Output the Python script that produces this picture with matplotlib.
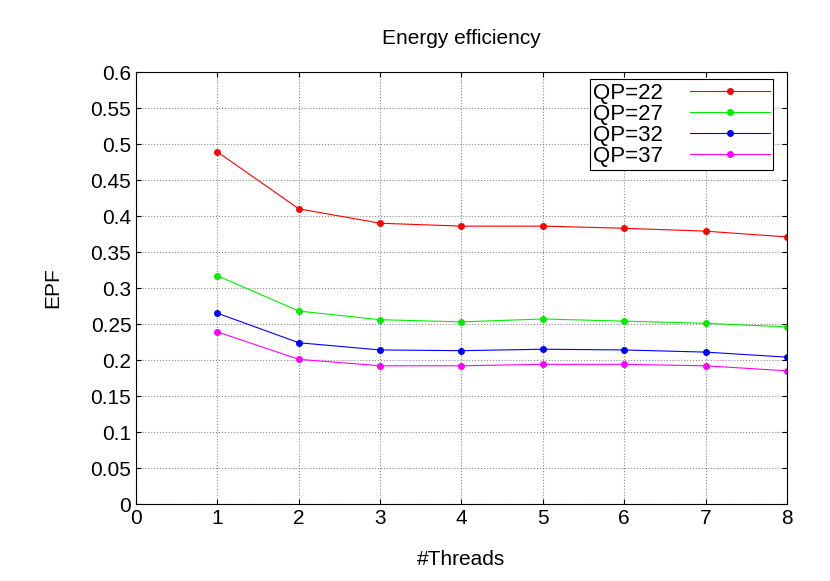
import matplotlib.pyplot as plt

plt.rcParams["font.family"] = "Liberation Sans"

threads = [1, 2, 3, 4, 5, 6, 7, 8]
qp22 = [0.489, 0.410, 0.390, 0.386, 0.386, 0.383, 0.379, 0.371]
qp27 = [0.317, 0.268, 0.256, 0.253, 0.257, 0.254, 0.251, 0.246]
qp32 = [0.265, 0.224, 0.214, 0.213, 0.215, 0.214, 0.211, 0.204]
qp37 = [0.239, 0.201, 0.192, 0.192, 0.194, 0.194, 0.192, 0.185]

series = [("QP=22", qp22, "#ff0000"), ("QP=27", qp27, "#00ee00"),
          ("QP=32", qp32, "#0000ff"), ("QP=37", qp37, "#ff00ff")]

fig = plt.figure(figsize=(8.3, 5.81), dpi=100)
ax = fig.add_axes([0.164, 0.1325, 0.784, 0.7435])
for name, vals, col in series:
    ax.plot(threads, vals, color=col, lw=0.8, marker="o", ms=4, label=name)

ax.set_xlim(0, 8)
ax.set_ylim(0, 0.6)
ax.set_xticks(range(9))
ax.set_yticks([i * 0.05 for i in range(13)])
ax.set_yticklabels(["0", "0.05", "0.1", "0.15", "0.2", "0.25", "0.3", "0.35",
                    "0.4", "0.45", "0.5", "0.55", "0.6"])
ax.tick_params(labelsize=15, direction="in", top=True, right=True)
ax.grid(True, color="#888888", linestyle=":", linewidth=0.8)
ax.set_title("Energy efficiency", fontsize=15, pad=20)
ax.set_xlabel("#Threads", fontsize=15, labelpad=16)
ax.set_ylabel("EPF", fontsize=15, labelpad=20)

leg = ax.legend(loc="upper left", bbox_to_anchor=(0.697, 0.983), fontsize=16,
                markerfirst=False, handlelength=3.6, fancybox=False,
                framealpha=1, borderpad=0.15, labelspacing=0.0, handletextpad=1.2,
                borderaxespad=0)
leg.get_frame().set_edgecolor("black")
leg.get_frame().set_linewidth(0.8)

fig.savefig("out.png", dpi=100)
